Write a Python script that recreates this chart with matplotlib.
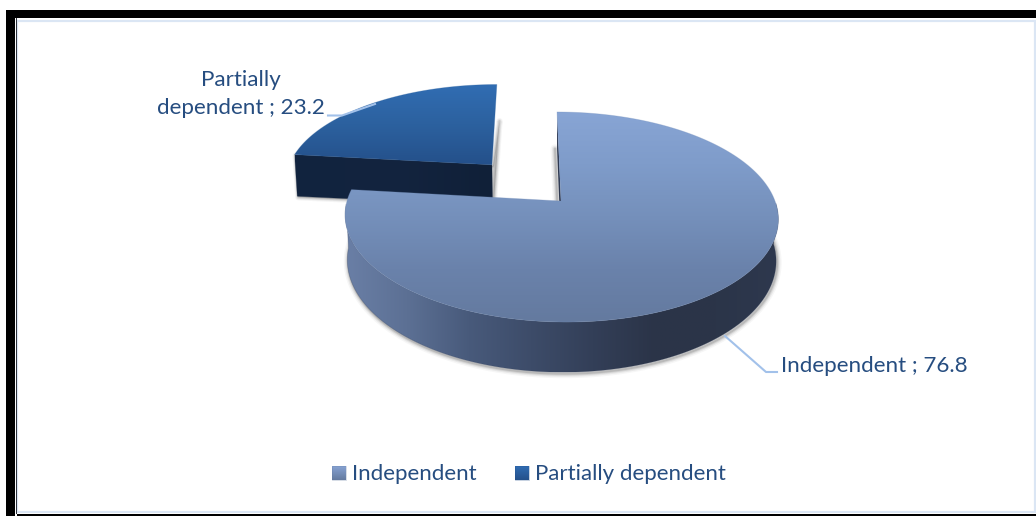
import numpy as np
import matplotlib
matplotlib.use("Agg")
import matplotlib.pyplot as plt
from matplotlib.colors import LinearSegmentedColormap
from matplotlib.patches import Polygon, Rectangle

categories = ["Independent", "Partially dependent"]
values = [76.8, 23.2]
explode = [0.0, 0.5]

TEXT = "#264d80"
LEADER = "#a2c1ea"

# view of the pie plane: centre, radius, shear, foreshortening, perspective, depth
CX, CY = 561, 201
RX, SHEAR = 214, -4.6
PY, Q = 102.6, 0.1524
DEPTH = 42.5


def project(x, y, down=False):
    x, y = np.asarray(x, float), np.asarray(y, float)
    w = 1 + Q * y
    sx = CX + (RX * x + SHEAR * y) / w
    sy = CY - PY * y / w
    if down:
        # the underside is a little narrower and leans to the right
        sx = CX + (sx - CX) * 0.99
        sy = sy + DEPTH * (1 - 0.04 * x) / w
    return sx, sy


def wedge(a0, a1, off, n=240):
    # angles are in degrees, clockwise from a0 down to a1
    t = np.radians(np.linspace(a0, a1, n))
    return off[0] + np.cos(t), off[1] + np.sin(t)


def fill_gradient(ax, poly_xy, colors, horizontal=False, zorder=3):
    xs, ys = poly_xy[:, 0], poly_xy[:, 1]
    cmap = LinearSegmentedColormap.from_list("g", colors)
    ramp = np.linspace(0, 1, 256)
    ramp = ramp.reshape(1, -1) if horizontal else ramp.reshape(-1, 1)
    im = ax.imshow(ramp, cmap=cmap, aspect="auto", origin="upper", zorder=zorder,
                   extent=[xs.min(), xs.max(), ys.max(), ys.min()], interpolation="bilinear")
    clip = Polygon(poly_xy, closed=True, transform=ax.transData, fc="none", ec="none")
    ax.add_patch(clip)
    im.set_clip_path(clip)
    # soften the clipped edge
    ax.add_patch(Polygon(poly_xy, closed=True, fc="none", ec=colors[len(colors) // 2],
                         lw=0.6, alpha=0.3, zorder=zorder))


def soft_shadow(ax, poly_xy, zorder=1):
    for lw, a in [(4.5, 0.06), (3.0, 0.1), (1.6, 0.16)]:
        ax.add_patch(Polygon(poly_xy + [1.0, 1.0], closed=True, fc="#555555", ec="#555555",
                             lw=lw, alpha=a, zorder=zorder, joinstyle="round"))


def soft_line(ax, xs, ys, zorder=4):
    for lw, a in [(6.5, 0.05), (4.5, 0.09), (2.8, 0.14), (1.4, 0.2)]:
        ax.plot(xs, ys, color="#555555", lw=lw, alpha=a, zorder=zorder, solid_capstyle="round")


fig = plt.figure(figsize=(10.36, 5.16), dpi=100)
plt.rcParams["font.family"] = ["Lato", "DejaVu Sans"]
ax = fig.add_axes([0, 0, 1, 1])
ax.set_xlim(0, 1036)
ax.set_ylim(516, 0)
ax.axis("off")

# outer frame
ax.add_patch(Rectangle((6, 10), 1030, 8, fc="black", ec="none", zorder=6))
ax.add_patch(Rectangle((6, 10), 9, 506, fc="black", ec="none", zorder=6))
ax.add_patch(Rectangle((16.5, 513.5), 1020, 3, fc="black", ec="none", zorder=6))
ax.add_patch(Rectangle((16, 19.5), 1019, 1.3, fc="#3d4a5e", ec="none", zorder=6))
ax.add_patch(Rectangle((17, 20.8), 1017.5, 491, fc="none", ec="#dbe6f4", lw=1.6, zorder=6))
ax.add_patch(Rectangle((15.6, 18), 1.3, 495.5, fc="#2b2f38", ec="none", zorder=6))

# slice angles start at 12 o'clock and run clockwise
total = sum(values)
ends = 90 - 360 * np.cumsum(values) / total
starts = np.r_[90, ends[:-1]]
mids = (starts + ends) / 2
offsets = [(e * np.cos(np.radians(m)), e * np.sin(np.radians(m))) for e, m in zip(explode, mids)]

# small exploded slice goes first, it sits behind the big one
# its arc runs from the left corner (index 1) to the top corner (index -1)
ox, oy = offsets[1]
ax_, ay_ = wedge(starts[1], ends[1], offsets[1])
px = np.r_[ox, ax_]
py = np.r_[oy, ay_]
sx, sy = project(px, py)
bx, by = project(px, py, down=True)
top_small = np.c_[sx, sy]
front_small = np.array([[sx[0], sy[0]], [sx[1], sy[1]], [bx[1], by[1]], [bx[0], by[0]]])
soft_shadow(ax, np.vstack([front_small, [[bx[-1] + 1, by[-1]]]]))
fill_gradient(ax, front_small, ["#11233e", "#13243f", "#102038"], horizontal=True, zorder=2)
fill_gradient(ax, top_small, ["#316db3", "#2c619f", "#24508a"], zorder=3)

# big slice
ax_, ay_ = wedge(starts[0], ends[0], offsets[0], n=480)
px = np.r_[0, ax_]
py = np.r_[0, ay_]
sx, sy = project(px, py)
bx, by = project(px, py, down=True)
top_big = np.c_[sx, sy]
# the rim only shows on the near half of the disc
front = py < -0.02
rim = np.vstack([np.c_[sx[front], sy[front]], np.c_[bx[front], by[front]][::-1]])
# only the near part of the rim casts a visible shadow
near = by[1:] > 235
soft_line(ax, bx[1:][near] + 1, by[1:][near] + 1.5)
soft_line(ax, [bx[1] - 2, bx[0] - 2], [by[1], by[0]], zorder=1)
fill_gradient(ax, rim, ["#6a7fa6", "#5c7094", "#485a7b", "#3d4c69", "#333f58", "#2b3448", "#2b3549", "#2e384e"],
              horizontal=True, zorder=5)
edge = np.array([[sx[0], sy[0]], [sx[1], sy[1]], [bx[1], by[1]], [bx[0], by[0]]])
ax.add_patch(Polygon(edge, closed=True, fc="#2d3850", ec="none", zorder=5))
fill_gradient(ax, top_big, ["#88a5d5", "#7f9cca", "#7590bb", "#6a82ab", "#647a9f"], zorder=5.5)

# leader lines and data labels
ax.plot([725, 766, 777], [336, 372, 372], color=LEADER, lw=1.5, zorder=7)
ax.plot([328, 342, 375], [115.5, 115.5, 104], color=LEADER, lw=1.5, zorder=7)
ax.text(781, 366, f"{categories[0]} ; {values[0]}", color=TEXT, fontsize=16.1, ha="left", va="center", zorder=8)
first, second = categories[1].split(" ")
ax.text(241, 94, f"{first}\n{second} ; {values[1]}", color=TEXT, fontsize=16.1, ha="center", va="center",
        linespacing=1.46, zorder=8)

# legend
legend_x = [332, 515]
for name, lx, cols in zip(categories, legend_x, [["#87a3d3", "#647a9f"], ["#316db3", "#24508a"]]):
    square = np.array([[lx, 466], [lx + 13.5, 466], [lx + 13.5, 480], [lx, 480]], float)
    fill_gradient(ax, square, cols, zorder=7)
    ax.text(lx + 20, 474, name, color=TEXT, fontsize=16, ha="left", va="center", zorder=8)

ax.set_xlim(0, 1036)
ax.set_ylim(516, 0)
fig.savefig("out.png", dpi=100)
